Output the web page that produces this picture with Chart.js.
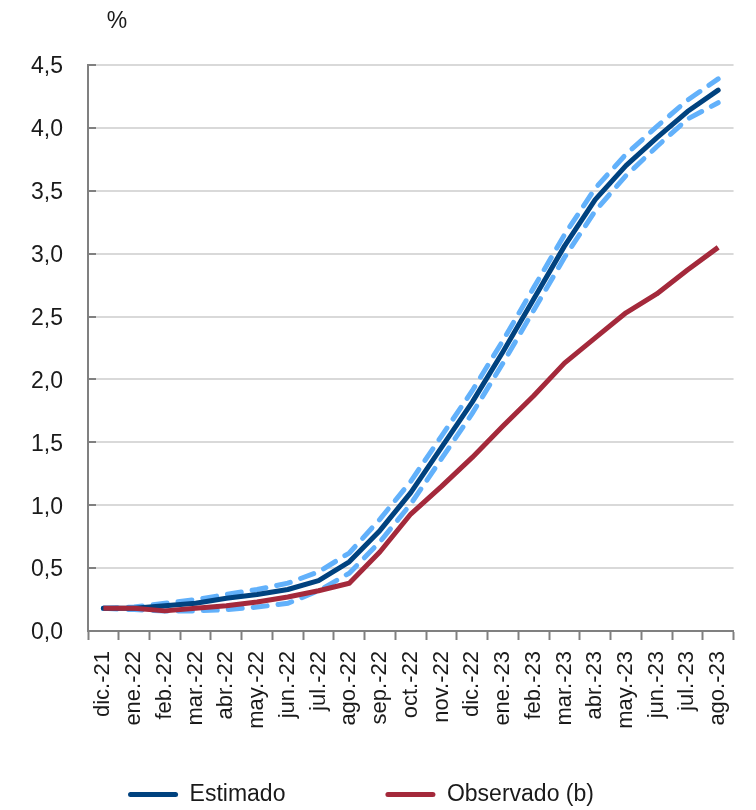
<!DOCTYPE html>
<html>
<head>
<meta charset="utf-8">
<script src="https://cdn.jsdelivr.net/npm/chart.js@4.4.1/dist/chart.umd.min.js"></script>
<style>
html,body{margin:0;padding:0;background:#ffffff;}
canvas{display:block;}
</style>
</head>
<body>
<canvas id="c" width="756" height="810"></canvas>
<script>
const categories = ['dic.-21','ene.-22','feb.-22','mar.-22','abr.-22','may.-22','jun.-22','jul.-22','ago.-22','sep.-22','oct.-22','nov.-22','dic.-22','ene.-23','feb.-23','mar.-23','abr.-23','may.-23','jun.-23','jul.-23','ago.-23'];
const estimado = [0.18,0.18,0.20,0.22,0.26,0.29,0.33,0.40,0.55,0.80,1.10,1.46,1.82,2.22,2.64,3.06,3.43,3.70,3.92,4.13,4.30];
const bandaSuperior = [0.18,0.19,0.22,0.25,0.29,0.33,0.38,0.47,0.62,0.89,1.19,1.55,1.91,2.31,2.73,3.15,3.52,3.79,4.01,4.22,4.39];
const bandaInferior = [0.18,0.17,0.16,0.16,0.17,0.19,0.22,0.32,0.46,0.71,1.01,1.37,1.73,2.13,2.55,2.97,3.34,3.62,3.85,4.07,4.20];
const observado = [0.18,0.18,0.16,0.18,0.20,0.23,0.27,0.32,0.38,0.63,0.93,1.15,1.38,1.63,1.87,2.13,2.33,2.53,2.68,2.87,3.05];
const yTickLabels = ['0,0','0,5','1,0','1,5','2,0','2,5','3,0','3,5','4,0','4,5'];
const seriesNames = ['Estimado','Observado (b)','Banda superior','Banda inferior'];
const yUnit = '%';

const FONT = '"Liberation Sans", Arial, Helvetica, sans-serif';
const TEXT = '#1a1a1a';
const AXIS = '#808080';

const unitPlugin = {
  id: 'unitLabel',
  afterDraw(chart) {
    const ctx = chart.ctx;
    ctx.save();
    ctx.font = '23px ' + FONT;
    ctx.fillStyle = TEXT;
    ctx.textAlign = 'center';
    ctx.textBaseline = 'middle';
    ctx.fillText(yUnit, chart.chartArea.left + 29, 22);
    ctx.restore();
  }
};
const legendPlacePlugin = {
  id: 'legendPlace',
  beforeInit(chart) {
    const f = chart.legend.fit;
    chart.legend.fit = function () { f.call(this); this.height = 59; };
  },
  afterLayout(chart) {
    const lg = chart.legend;
    lg.top = 683;
    lg.bottom = 810;
    lg.height = lg.bottom - lg.top;
    lg.left = -8;
    lg.right = 730;
    lg.width = lg.right - lg.left;
  }
};

new Chart(document.getElementById('c'), {
  type: 'line',
  data: {
    labels: categories,
    datasets: [
      { label: seriesNames[0], data: estimado, borderColor: '#00427f', backgroundColor: '#00427f', borderWidth: 5, pointRadius: 0, order: 1, borderJoinStyle: 'round', borderCapStyle: 'round' },
      { label: seriesNames[1], data: observado, borderColor: '#a4293b', backgroundColor: '#a4293b', borderWidth: 5, pointRadius: 0, order: 0, borderJoinStyle: 'round' },
      { label: seriesNames[2], data: bandaSuperior, borderColor: '#62b1fb', backgroundColor: '#62b1fb', borderWidth: 5, borderDash: [14, 11], borderCapStyle: 'round', pointRadius: 0, order: 2 },
      { label: seriesNames[3], data: bandaInferior, borderColor: '#62b1fb', backgroundColor: '#62b1fb', borderWidth: 5, borderDash: [14, 11], borderCapStyle: 'round', pointRadius: 0, order: 3 }
    ]
  },
  options: {
    responsive: false,
    animation: false,
    layout: { padding: { top: 65, right: 18, left: 0, bottom: 0 } },
    plugins: {
      tooltip: { enabled: false },
      legend: {
        position: 'bottom',
        align: 'center',
        labels: {
          font: { family: FONT, size: 23 },
          color: TEXT,
          boxWidth: 50,
          boxHeight: 5,
          padding: 100,
          useBorderRadius: true,
          borderRadius: 2.5,
          sort: (a, b) => a.datasetIndex - b.datasetIndex,
          generateLabels(chart) {
            const items = Chart.defaults.plugins.legend.labels.generateLabels(chart);
            return items.filter(i => i.datasetIndex < 2).map(i => Object.assign(i, { lineWidth: 0, borderRadius: 2.5 }));
          }
        }
      }
    },
    scales: {
      x: {
        type: 'category',
        offset: true,
        afterFit(scale) { scale.height = 120; },
        grid: { display: true, drawOnChartArea: false, offset: true, tickLength: 9, tickColor: AXIS, tickWidth: 2 },
        border: { display: true, color: AXIS, width: 2 },
        ticks: { autoSkip: false, minRotation: 90, maxRotation: 90, padding: 11, color: TEXT, font: { family: FONT, size: 22 } }
      },
      y: {
        min: 0,
        max: 4.5,
        afterFit(scale) { scale.width = 88; },
        grid: { color: '#d9d9d9', lineWidth: 2, drawTicks: true, tickLength: -8, tickColor: AXIS, tickWidth: 2 },
        border: { display: true, color: AXIS, width: 2 },
        ticks: { stepSize: 0.5, padding: 33, labelOffset: 2, color: TEXT, font: { family: FONT, size: 23 },
          callback: (v, i) => yTickLabels[i] }
      }
    }
  },
  plugins: [unitPlugin, legendPlacePlugin]
});
</script>
</body>
</html>
